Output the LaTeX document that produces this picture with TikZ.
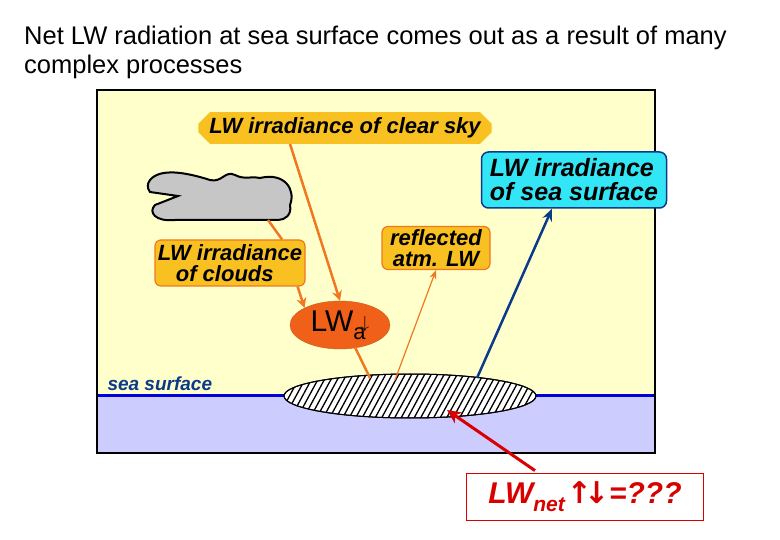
\documentclass[tikz,border=0pt]{standalone}
\usepackage{fontspec}
\setmainfont{Liberation Sans}
\newfontfamily\djv{DejaVu Sans}
\usetikzlibrary{shapes.geometric,shapes.misc,arrows.meta}
\definecolor{bgy}{HTML}{FFFFCC}
\definecolor{seab}{HTML}{CCCCFF}
\definecolor{gold}{HTML}{F8C020}
\definecolor{org}{HTML}{F07820}
\definecolor{lwa}{HTML}{F06018}
\definecolor{cy}{HTML}{33E6F5}
\definecolor{dblue}{HTML}{0B3A8C}
\tikzset{
 lab/.style={font=\bfseries\itshape\fontsize{22}{22}\selectfont, inner sep=2pt},
 gbox/.style={lab, fill=gold, draw=org, line width=1.2pt, rounded corners=6pt, align=left},
 oarr/.style={draw=org, line width=2.5pt, -{Stealth[length=10pt,width=10pt]}},
}
\begin{document}
\begin{tikzpicture}[x=1pt,y=-1pt]
\useasboundingbox (0,0) rectangle (780,540);
\fill[white] (0,0) rectangle (780,540);
\node[anchor=west,font=\fontsize{25.5}{25.5}\selectfont,inner sep=0pt] (t1) at (24,38) {Net LW radiation at sea surface comes out as a result of many};
\node[anchor=west,font=\fontsize{25.5}{25.5}\selectfont,inner sep=0pt] (t2) at (24,67) {complex processes};
\fill[bgy] (97,90) rectangle (655,395);
\fill[seab] (97,395) rectangle (655,453);
\draw[blue!85!black, line width=3pt] (97,395) -- (655,395);
\draw[black, line width=1.2pt] (97,90) rectangle (655,453);
\node[anchor=west, font=\bfseries\itshape\fontsize{19}{19}\selectfont, text=dblue] (ss) at (104,384) {sea surface};
% cloud
\draw[black, line width=2pt, fill=gray!45] (150,180) .. controls (160,168) and (185,172) .. (210,180) .. controls (222,183) and (225,170) .. (235,175) .. controls (245,180) and (250,176) .. (260,178) .. controls (285,172) and (296,190) .. (290,205) .. controls (292,215) and (285,220) .. (278,220) -- (175,220) .. controls (155,222) and (148,212) .. (155,205) -- (178,196) -- (150,192) .. controls (147,188) and (147,184) .. (150,180) -- cycle;
\coordinate (cb) at (268,220);
% hatched ellipse
\node[ellipse, draw=black, fill=white, line width=1pt, minimum width=252pt, minimum height=44pt, inner sep=0pt] (hat) at (410,396) {};
\begin{scope}
\clip (410,396) ellipse [x radius=126pt, y radius=22pt];
\foreach \i in {0,...,50} {\draw[line width=1.3pt] (270+\i*6.5,420) -- (270+\i*6.5+26,372);}
\end{scope}
\draw[line width=1pt] (410,396) ellipse [x radius=126pt, y radius=22pt];
\node[ellipse, fill=lwa, draw=org!80!black, minimum width=100pt, minimum height=48pt, inner sep=0pt, font=\fontsize{30}{30}\selectfont] (lwa) at (340,325) {LW\raisebox{-8pt}{\fontsize{22}{22}\selectfont a}\hspace{-5pt}\raisebox{3pt}{\fontsize{16}{16}\selectfont$\downarrow$}};
\node[lab, fill=gold, chamfered rectangle, chamfered rectangle xsep=8pt, inner xsep=3pt, minimum height=26pt] (sky) at (345,128) {LW irradiance of clear sky};
\node[gbox, minimum width=150pt, minimum height=46pt, inner sep=1pt] (cl) at (230,263) {LW irradiance\\[-1pt]\hspace*{18pt}of clouds};
\node[gbox, minimum width=108pt, minimum height=43pt, inner sep=1pt, align=center] (rf) at (436,248) {reflected\\[-1pt]atm. LW};
\node[lab, fill=cy, draw=dblue, line width=1.5pt, rounded corners=7pt, minimum width=185pt, minimum height=56pt, align=left, font=\bfseries\itshape\fontsize{25}{25}\selectfont] (sea) at (574,180) {LW irradiance\\[-1pt]of sea surface};
\node[draw=red!85!black, line width=1.8pt, minimum width=237pt, minimum height=47pt, text=red!85!black, font=\bfseries\itshape\fontsize{30}{30}\selectfont] (net) at (585,497) {LW\raisebox{-8pt}{\fontsize{21}{21}\selectfont net}{\djv\bfseries\upshape\hspace{2pt}↑\hspace{-8pt}↓}=???};
% connectors
\draw[org, line width=2.5pt] (cb) -- (cl.north -| 282,0);
\draw[oarr] (sky.south -| 290,0) -- (lwa.north);
\draw[oarr] (cl.south east) ++(-8,0) -- (lwa.north west) ;
\draw[org, line width=2.5pt] (lwa.south) ++(15,-2) -- (370,378);
\draw[org, line width=1.2pt, -{Stealth[length=9pt,width=7pt]}] (395,380) -- (rf.south);
\draw[dblue, line width=2.5pt, -{Stealth[length=12pt,width=10pt]}] (477,378) -- (sea.south -| 552,0);
\draw[red!85!black, line width=3pt, -{Stealth[length=14pt,width=13pt]}] (net.north) ++(-50,-2) -- (447,410);
\end{tikzpicture}
\end{document}
